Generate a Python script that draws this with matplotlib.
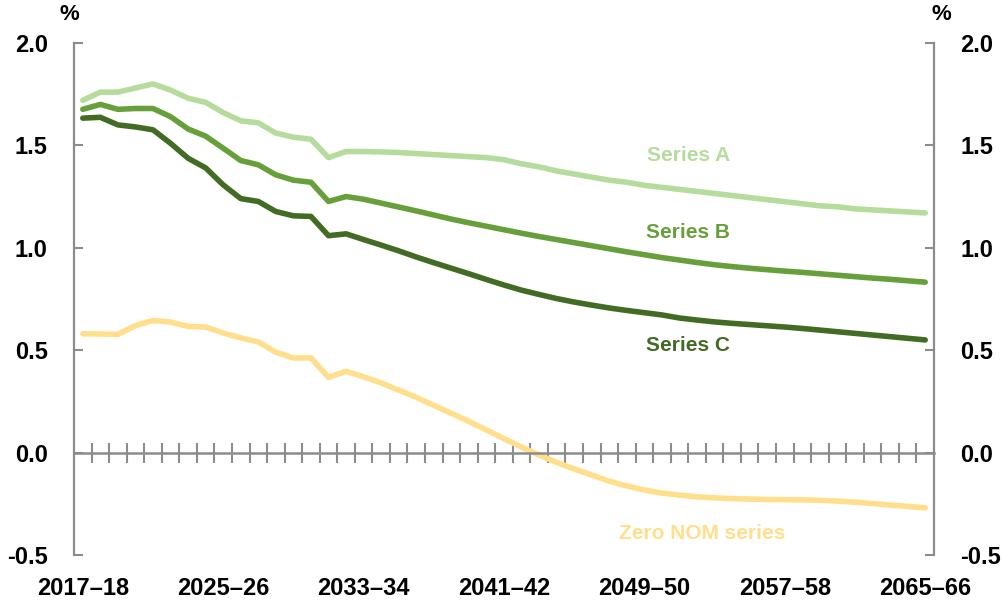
import matplotlib.pyplot as plt
import numpy as np

years = [f"{y}\u2013{str(y + 1)[-2:]}" for y in range(2017, 2066)]

series_a = [1.72, 1.76, 1.76, 1.78, 1.80, 1.77, 1.73, 1.71, 1.66, 1.62,
            1.61, 1.56, 1.54, 1.53, 1.44, 1.47, 1.47, 1.468, 1.465, 1.46,
            1.455, 1.45, 1.445, 1.44, 1.43, 1.41, 1.395, 1.375, 1.36, 1.345,
            1.33, 1.32, 1.305, 1.295, 1.285, 1.275, 1.265, 1.255, 1.245, 1.235,
            1.225, 1.215, 1.205, 1.20, 1.19, 1.185, 1.18, 1.175, 1.17]
series_b = [1.676, 1.70, 1.676, 1.68, 1.68, 1.64, 1.58, 1.545, 1.486, 1.426,
            1.405, 1.356, 1.33, 1.32, 1.226, 1.25, 1.237, 1.218, 1.199, 1.18,
            1.16, 1.14, 1.122, 1.105, 1.088, 1.071, 1.055, 1.04, 1.025, 1.01,
            0.995, 0.98, 0.966, 0.952, 0.94, 0.928, 0.917, 0.908, 0.90, 0.893,
            0.886, 0.88, 0.873, 0.866, 0.859, 0.852, 0.846, 0.839, 0.832]
series_c = [1.633, 1.637, 1.60, 1.59, 1.576, 1.51, 1.437, 1.39, 1.307, 1.24,
            1.226, 1.177, 1.156, 1.153, 1.059, 1.068, 1.04, 1.013, 0.985, 0.955,
            0.927, 0.90, 0.873, 0.845, 0.818, 0.793, 0.772, 0.752, 0.735, 0.72,
            0.706, 0.694, 0.683, 0.672, 0.657, 0.647, 0.638, 0.631, 0.625, 0.619,
            0.613, 0.606, 0.598, 0.59, 0.582, 0.574, 0.566, 0.558, 0.55]
zero_nom = [0.58, 0.579, 0.577, 0.62, 0.645, 0.637, 0.616, 0.613, 0.584, 0.56,
            0.54, 0.49, 0.462, 0.462, 0.367, 0.397, 0.37, 0.34, 0.305, 0.27,
            0.23, 0.192, 0.152, 0.11, 0.068, 0.027, -0.012, -0.048, -0.08, -0.11,
            -0.14, -0.163, -0.183, -0.198, -0.208, -0.216, -0.221, -0.225, -0.227, -0.229,
            -0.23, -0.231, -0.233, -0.237, -0.242, -0.249, -0.256, -0.263, -0.27]

colors = {"a": "#b5dc9d", "b": "#67a03b", "c": "#426b24", "z": "#ffdf8c"}
grey = "#8c8c8c"

plt.rcParams['font.family'] = ['Liberation Sans', 'DejaVu Sans']
plt.rcParams['font.weight'] = 'bold'

fig = plt.figure(figsize=(10.03, 6.06), dpi=100)
ax = fig.add_axes([0.0738, 0.0842, 0.8574, 0.8449])

x = np.arange(len(years))
ax.plot(x, zero_nom, color=colors["z"], lw=4, solid_capstyle='round')
ax.plot(x, series_a, color=colors["a"], lw=4, solid_capstyle='round')
ax.plot(x, series_b, color=colors["b"], lw=4, solid_capstyle='round')
ax.plot(x, series_c, color=colors["c"], lw=4, solid_capstyle='round')

ax.set_xlim(-0.5, len(years) - 0.5)
ax.set_ylim(-0.5, 2.0)
ax.set_yticks([-0.5, 0.0, 0.5, 1.0, 1.5, 2.0])
ax.set_yticklabels(["-0.5", "0.0", "0.5", "1.0", "1.5", "2.0"])

for s in ["left", "right"]:
    ax.spines[s].set_color(grey)
    ax.spines[s].set_linewidth(1.6)
ax.spines["top"].set_visible(False)
ax.spines["bottom"].set_position(("data", 0))
ax.spines["bottom"].set_color(grey)
ax.spines["bottom"].set_linewidth(1.8)

ax.tick_params(axis='y', which='major', direction='in', length=6.5, width=1.5,
               color=grey, left=True, right=True, labelleft=True, labelright=True,
               labelsize=17, pad=19)
ax.set_xticks(np.arange(1, len(years)) - 0.5, minor=True)
ax.set_xticks([])
ax.tick_params(axis='x', which='minor', direction='inout', length=14, width=1.5,
               color=grey)

sec = ax.secondary_xaxis(0)
sec.set_xticks(x[::8])
sec.set_xticklabels(years[::8])
sec.tick_params(length=0, labelsize=17, pad=16)
sec.spines["bottom"].set_visible(False)

ax.text(-0.005, 1.035, "%", transform=ax.transAxes, ha='center', va='bottom',
        fontsize=16, fontweight='bold')
ax.text(1.009, 1.035, "%", transform=ax.transAxes, ha='center', va='bottom',
        fontsize=16, fontweight='bold')

ax.text(34.5, 1.45, "Series A", color=colors["a"], fontsize=15, fontweight='bold', ha='center', va='center')
ax.text(34.5, 1.075, "Series B", color=colors["b"], fontsize=15, fontweight='bold', ha='center', va='center')
ax.text(34.5, 0.525, "Series C", color=colors["c"], fontsize=15, fontweight='bold', ha='center', va='center')
ax.text(35.3, -0.395, "Zero NOM series", color=colors["z"], fontsize=15, fontweight='bold', ha='center', va='center')

fig.savefig("out.png", dpi=100)
